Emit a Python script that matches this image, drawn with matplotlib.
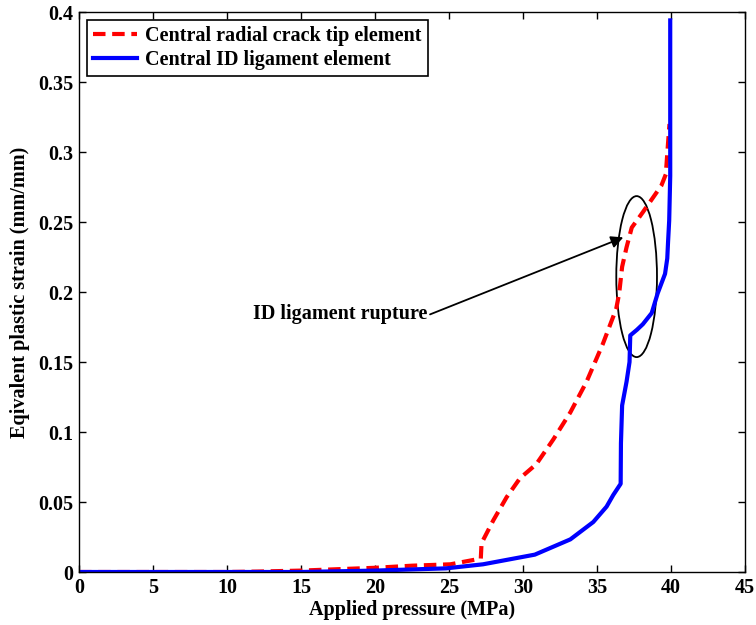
import matplotlib
matplotlib.use("Agg")
import matplotlib.pyplot as plt
from matplotlib.patches import Ellipse
from matplotlib.ticker import FixedLocator, FixedFormatter

plt.rcParams['font.family'] = ['Liberation Serif', 'DejaVu Serif']
plt.rcParams['font.weight'] = 'bold'

# Central radial crack tip element (red dashed)
red_x = [0, 10, 12, 15, 17.5, 20, 22.5, 25.1, 27.15, 27.2, 28.0, 28.9, 29.8, 30.9,
         32.05, 33.2, 34.3, 35.4, 36.3, 36.5, 36.7, 37.0, 37.35, 38.1, 39.35,
         39.65, 39.8, 39.9]
red_y = [0, 0, 0.0003, 0.001, 0.002, 0.003, 0.0045, 0.0055, 0.0096, 0.0206, 0.037,
         0.0535, 0.067, 0.077, 0.0947, 0.114, 0.136, 0.163, 0.188, 0.199, 0.218,
         0.232, 0.246, 0.257, 0.276, 0.284, 0.306, 0.32]

# Central ID ligament element (blue solid)
blue_x = [0, 15, 20, 24.8, 27.3, 30.8, 33.2, 34.75, 35.65, 36.1, 36.6, 36.62, 36.7,
          37.0, 37.2, 37.25, 37.7, 38.1, 38.7, 39.1, 39.6, 39.75, 39.8, 39.88,
          39.95, 39.95]
blue_y = [0, 0, 0.001, 0.0026, 0.0055, 0.0124, 0.0233, 0.0357, 0.0467, 0.055, 0.063,
          0.092, 0.119, 0.136, 0.150, 0.169, 0.173, 0.177, 0.185, 0.199, 0.213,
          0.224, 0.235, 0.251, 0.283, 0.394]

x_ticks = [0, 5, 10, 15, 20, 25, 30, 35, 40, 45]
x_tick_labels = ['0', '5', '10', '15', '20', '25', '30', '35', '40', '45']
y_ticks = [0, 0.05, 0.1, 0.15, 0.2, 0.25, 0.3, 0.35, 0.4]
y_tick_labels = ['0', '0.05', '0.1', '0.15', '0.2', '0.25', '0.3', '0.35', '0.4']

annot_text = 'ID ligament rupture'

fs = 14.5
fig = plt.figure(figsize=(7.56, 6.25), dpi=100)
ax = fig.add_axes([0.1045, 0.0848, 0.8809, 0.896])

ax.plot(red_x, red_y, color='red', linestyle=(0, (3, 1.6)), linewidth=3,
        label='Central radial crack tip element')
ax.plot(blue_x, blue_y, color='blue', linestyle='-', linewidth=3,
        label='Central ID ligament element')

ax.set_xlim(0, 45)
ax.set_ylim(0, 0.4)
ax.xaxis.set_major_locator(FixedLocator(x_ticks))
ax.xaxis.set_major_formatter(FixedFormatter(x_tick_labels))
ax.yaxis.set_major_locator(FixedLocator(y_ticks))
ax.yaxis.set_major_formatter(FixedFormatter(y_tick_labels))
ax.tick_params(direction='in', top=True, right=True, length=5, width=1,
               labelsize=fs, pad=4)
for lab in ax.get_xticklabels() + ax.get_yticklabels():
    lab.set_fontweight('bold')
for sp in ax.spines.values():
    sp.set_linewidth(1)

ax.set_xlabel('Applied pressure (MPa)', fontsize=fs, fontweight='bold', labelpad=2)
ax.set_ylabel('Eqivalent plastic strain (mm/mm)', fontsize=fs, fontweight='bold', labelpad=6)

leg = ax.legend(loc='upper left', fontsize=fs, frameon=True, fancybox=False,
                edgecolor='black', framealpha=1, handlelength=2.2,
                borderpad=0.3, labelspacing=0.2, handletextpad=0.4,
                borderaxespad=0.4, prop={'weight': 'bold', 'size': fs})
leg.get_frame().set_linewidth(1.2)

ell = Ellipse((37.68, 0.211), width=2.75, height=0.115, fill=False,
              edgecolor='black', linewidth=1.3)
ax.add_patch(ell)

ax.text(23.55, 0.184, annot_text, fontsize=fs, fontweight='bold',
        ha='right', va='center')
ax.annotate('', xy=(36.78, 0.239), xytext=(23.72, 0.184),
            arrowprops=dict(arrowstyle='-|>', color='black', lw=1.3,
                            mutation_scale=18, shrinkA=0, shrinkB=0))

fig.savefig('out.png', dpi=100)
